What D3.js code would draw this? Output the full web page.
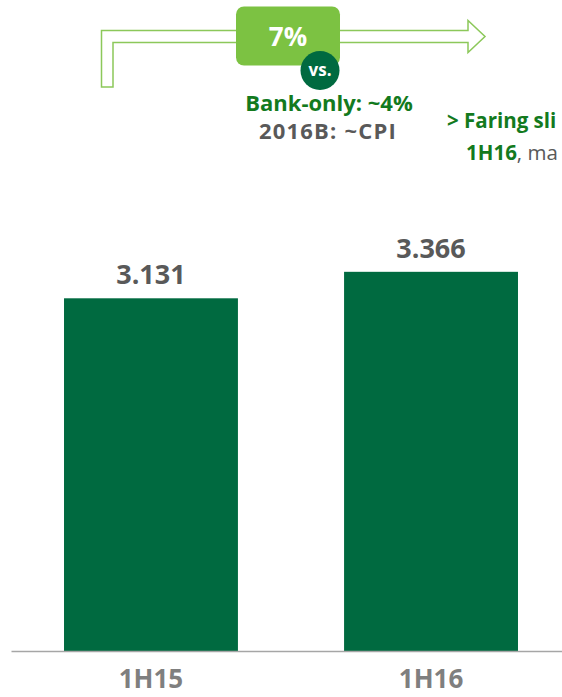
<!DOCTYPE html>
<html>
<head>
<meta charset="utf-8">
<script src="https://cdn.jsdelivr.net/npm/d3@7"></script>
<style>
  body { margin: 0; background: #fff; }
  svg { display: block; overflow: hidden; }
  text { font-family: "Open Sans", Lato, sans-serif; }
</style>
</head>
<body>
<div id="chart"></div>
<script>
// chart data
var periods = ["1H15", "1H16"];
var values = [3.131, 3.366];
var valueLabels = ["3.131", "3.366"];

// growth callout texts
var growthLabel = "7%";
var vsLabel = "vs.";
var compareLines = ["Bank-only: ~4%", "2016B: ~CPI"];

var svgWidth = 562;
var svgHeight = 697;
var baseY = 651;

var svg = d3.select("#chart")
    .append("svg")
    .attr("width", svgWidth)
    .attr("height", svgHeight);

// scales
var xBand = d3.scaleBand()
    .domain(periods)
    .range([11, 571])
    .paddingInner(0.379)
    .paddingOuter(0.1893);

var yLin = d3.scaleLinear()
    .domain([0, 4])
    .range([baseY, baseY - 4 * 112.65]);

// bars
svg.append("g")
    .selectAll("rect")
    .data(values)
    .enter()
    .append("rect")
    .attr("x", (d, i) => xBand(periods[i]))
    .attr("y", d => yLin(d))
    .attr("width", xBand.bandwidth())
    .attr("height", d => baseY - yLin(d))
    .attr("fill", "#006a40");

// value labels
svg.append("g")
    .selectAll("text")
    .data(values)
    .enter()
    .append("text")
    .attr("x", (d, i) => xBand(periods[i]) + xBand.bandwidth() / 2)
    .attr("y", d => yLin(d) - 14)
    .attr("text-anchor", "middle")
    .attr("font-size", 27)
    .attr("font-weight", "bold")
    .attr("fill", "#595959")
    .text((d, i) => valueLabels[i]);

// x axis
var xAxis = d3.axisBottom(xBand).tickSize(0).tickPadding(19);
var axisG = svg.append("g")
    .attr("transform", `translate(0, ${baseY})`)
    .call(xAxis);
axisG.select(".domain").attr("stroke", "#a6a6a6").attr("stroke-width", 1.3);
axisG.selectAll("text")
    .attr("font-size", 26)
    .attr("font-weight", "bold")
    .attr("fill", "#7f7f7f")
    .attr("font-family", "'Open Sans', sans-serif");

// outline arrow at the top
var arrowPath = "M101.5,87 L101.5,30.5 L468,30.5 L468,20.5 L485,36.5 L468,52.5 L468,42.5 L113,42.5 L113,87 Z";
svg.append("path")
    .attr("d", arrowPath)
    .attr("fill", "#fff")
    .attr("stroke", "#8cc85a")
    .attr("stroke-width", 1.5);

// 7% box
svg.append("rect")
    .attr("x", 236)
    .attr("y", 6.5)
    .attr("width", 104)
    .attr("height", 59)
    .attr("rx", 8)
    .attr("fill", "#7cc242");

svg.append("text")
    .attr("x", 288)
    .attr("y", 46)
    .attr("text-anchor", "middle")
    .attr("font-size", 26)
    .attr("font-weight", "bold")
    .attr("fill", "#fff")
    .text(growthLabel);

// vs. circle
svg.append("circle")
    .attr("cx", 320)
    .attr("cy", 70.5)
    .attr("r", 19.5)
    .attr("fill", "#006a40");

svg.append("text")
    .attr("x", 320)
    .attr("y", 76)
    .attr("text-anchor", "middle")
    .attr("font-size", 17)
    .attr("font-weight", "bold")
    .attr("fill", "#fff")
    .text(vsLabel);

// comparison lines
svg.append("text")
    .attr("x", 329)
    .attr("y", 111)
    .attr("text-anchor", "middle")
    .attr("font-size", 22)
    .attr("font-weight", "bold")
    .attr("fill", "#137a1e")
    .text(compareLines[0]);

svg.append("text")
    .attr("x", 328)
    .attr("y", 139)
    .attr("text-anchor", "middle")
    .attr("font-size", 22)
    .attr("letter-spacing", 1.2)
    .attr("font-weight", "bold")
    .attr("fill", "#595959")
    .text(compareLines[1]);

// side note, only the part inside the picture
svg.append("text")
    .attr("x", 447)
    .attr("y", 128)
    .attr("font-size", 20.5)
    .attr("font-weight", "bold")
    .attr("fill", "#137a1e")
    .text("> Faring sli");

var note2 = svg.append("text")
    .attr("x", 466)
    .attr("y", 160)
    .attr("font-size", 20.5);
note2.append("tspan")
    .attr("font-weight", "bold")
    .attr("fill", "#137a1e")
    .text("1H16");
note2.append("tspan")
    .attr("fill", "#595959")
    .text(", ma");
</script>
</body>
</html>
